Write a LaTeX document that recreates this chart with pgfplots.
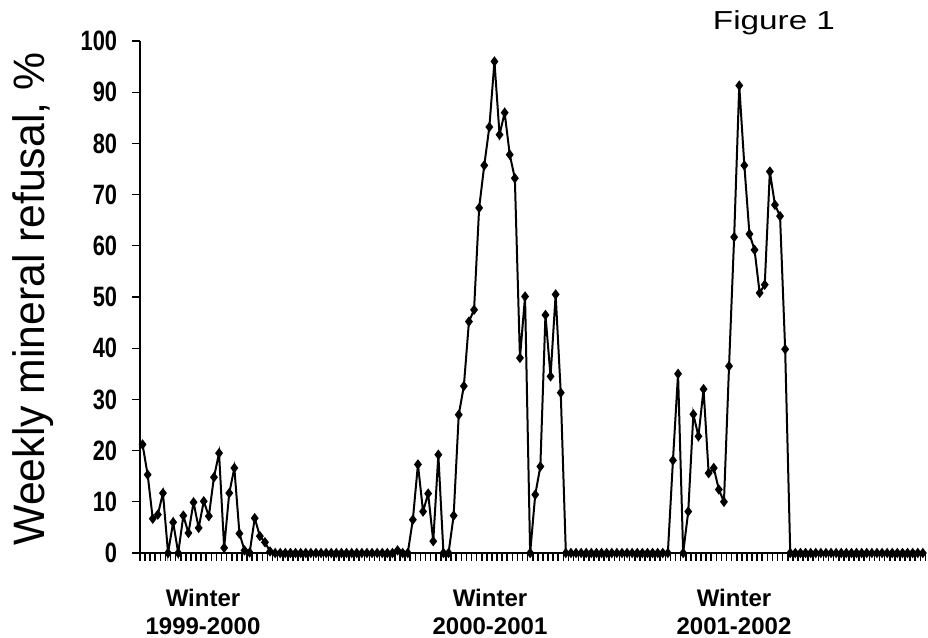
\documentclass[border=0pt]{standalone}
\usepackage{pgfplots}
\pgfplotsset{compat=1.18}
\usepackage{fontspec}
\setmainfont{Liberation Sans}
\newfontfamily\tickfont[FakeStretch=0.78]{Liberation Sans Bold}
\newfontfamily\ylabfont[FakeStretch=0.97]{Liberation Sans}
\newfontfamily\figfont[FakeStretch=1.28]{Liberation Sans}
\begin{document}
\begin{tikzpicture}[x=1pt,y=1pt]
\begin{axis}[
  scale only axis, width=392.7pt, height=256pt,
  xmin=-0.5, xmax=153.5, ymin=0, ymax=100,
  axis x line*=bottom, axis y line*=left,
  axis line style={line width=0.75pt},
  xtick={-0.5,0.5,...,153.5}, xticklabels={},
  ytick={0,10,...,100},
  tick align=outside, major tick length=3.75pt,
  tick style={black, line width=0.6pt},
  xtick style={black, line width=0.8pt},
  /pgf/number format/assume math mode=true,
  yticklabel style={font=\tickfont\fontsize{14}{14}\selectfont, inner sep=0pt, xshift=-7.5pt},
  clip=false,
]
\addplot[black, line width=1pt, mark=diamond*, mark size=1.8pt, mark options={solid}] coordinates {
(0,21.2)(1,15.3)(2,6.7)(3,7.5)(4,11.7)(5,0)(6,6.0)(7,0)(8,7.3)(9,3.9)
(10,9.9)(11,4.9)(12,10.1)(13,7.2)(14,14.8)(15,19.5)(16,1.0)(17,11.7)(18,16.6)(19,3.8)
(20,0.5)(21,0.1)(22,6.8)(23,3.3)(24,2.1)(25,0.3)(26,0)(27,0)(28,0)(29,0)
(30,0)(31,0)(32,0)(33,0)(34,0)(35,0)(36,0)(37,0)(38,0)(39,0)
(40,0)(41,0)(42,0)(43,0)(44,0)(45,0)(46,0)(47,0)(48,0)(49,0)
(50,0.5)(51,0)(52,0)(53,6.5)(54,17.3)(55,8.1)(56,11.6)(57,2.3)(58,19.2)(59,0)
(60,0)(61,7.3)(62,27.0)(63,32.6)(64,45.2)(65,47.5)(66,67.4)(67,75.7)(68,83.2)(69,96.0)
(70,81.7)(71,86.0)(72,77.8)(73,73.2)(74,38.1)(75,50.1)(76,0)(77,11.4)(78,16.9)(79,46.5)
(80,34.5)(81,50.5)(82,31.3)(83,0)(84,0)(85,0)(86,0)(87,0)(88,0)(89,0)
(90,0)(91,0)(92,0)(93,0)(94,0)(95,0)(96,0)(97,0)(98,0)(99,0)
(100,0)(101,0)(102,0)(103,0)(104,18.1)(105,35.0)(106,0)(107,8.1)(108,27.1)(109,22.8)
(110,32.0)(111,15.6)(112,16.6)(113,12.4)(114,10.0)(115,36.5)(116,61.7)(117,91.3)(118,75.7)(119,62.3)
(120,59.2)(121,50.8)(122,52.4)(123,74.5)(124,68.0)(125,65.8)(126,39.8)(127,0)(128,0)(129,0)
(130,0)(131,0)(132,0)(133,0)(134,0)(135,0)(136,0)(137,0)(138,0)(139,0)
(140,0)(141,0)(142,0)(143,0)(144,0)(145,0)(146,0)(147,0)(148,0)(149,0)
(150,0)(151,0)(152,0)(153,0)
};
\end{axis}
% labels (1px = 0.5pt, axis origin at px (140,553))
\node[rotate=90, anchor=base, inner sep=0pt, font=\ylabfont\fontsize{22}{22}\selectfont] at (-47.5,127) {Weekly mineral refusal, \%};
\node[anchor=base, inner sep=0pt, font=\figfont\fontsize{13}{13}\selectfont] at (317,261.5) {Figure 1};
\foreach \cx/\yr in {31.5/1999-2000, 175/2000-2001, 297/2001-2002}{
  \node[anchor=base, inner sep=0pt, font=\bfseries\fontsize{12}{12}\selectfont] at (\cx,-27) {Winter};
  \node[anchor=base, inner sep=0pt, font=\bfseries\fontsize{12}{12}\selectfont] at (\cx,-41) {\yr};
}
\pgfresetboundingbox
\path[use as bounding box] (-70,-42.5) rectangle (394,276.5);
\end{tikzpicture}
\end{document}
